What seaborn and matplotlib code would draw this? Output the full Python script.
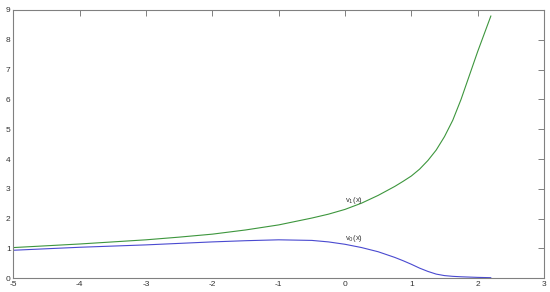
import matplotlib
matplotlib.use("Agg")
import matplotlib.pyplot as plt
import numpy as np
import pandas as pd
import seaborn as sns

# values
x_vals = [-5, -4.5, -4, -3.5, -3, -2.5, -2, -1.5, -1, -0.5, -0.25, 0, 0.25,
          0.5, 0.75, 0.875, 1, 1.125, 1.25, 1.375, 1.5, 1.625, 1.75, 1.875,
          2, 2.1, 2.2]
v1_vals = [1.03, 1.09, 1.15, 1.22, 1.29, 1.38, 1.48, 1.62, 1.79, 2.02, 2.15,
           2.31, 2.52, 2.78, 3.08, 3.25, 3.43, 3.66, 3.95, 4.3, 4.75, 5.3,
           6.0, 6.8, 7.6, 8.2, 8.8]
v0_vals = [0.94, 0.99, 1.04, 1.08, 1.12, 1.17, 1.22, 1.26, 1.29, 1.27, 1.22,
           1.14, 1.03, 0.89, 0.70, 0.59, 0.47, 0.34, 0.23, 0.14, 0.09, 0.065,
           0.05, 0.04, 0.03, 0.025, 0.02]
x_ticks = [-5, -4, -3, -2, -1, 0, 1, 2, 3]
y_ticks = [0, 1, 2, 3, 4, 5, 6, 7, 8, 9]

df = pd.DataFrame({'x': x_vals, 'v1': v1_vals, 'v0': v0_vals})

sns.set_style('white')
plt.rcParams['font.family'] = ['Liberation Sans', 'DejaVu Sans']
plt.rcParams['axes.unicode_minus'] = False
fig = plt.figure(figsize=(5.5, 2.92), dpi=100)
ax = fig.add_axes([0.0244, 0.047, 0.9646, 0.919])

sns.lineplot(data=df, x='x', y='v1', ax=ax, color='#3d963d', linewidth=0.8)
sns.lineplot(data=df, x='x', y='v0', ax=ax, color='#4a4ad0', linewidth=0.8)

ax.text(0.0, 2.55, r'v$_1$(x)', fontsize=5.5, color='#333333')
ax.text(0.0, 1.3, r'v$_0$(x)', fontsize=5.5, color='#333333')

ax.set_xlim(-5, 3)
ax.set_ylim(0, 9)
ax.set_xticks(x_ticks)
ax.set_yticks(y_ticks)
ax.set_xlabel('')
ax.set_ylabel('')
for s in ax.spines.values():
    s.set_color('#808080')
    s.set_linewidth(0.8)
ax.tick_params(direction='in', length=4, width=0.7, color='#808080',
               labelsize=6, labelcolor='#333333', top=True, right=True,
               pad=2)

fig.savefig('out.png', dpi=100)
